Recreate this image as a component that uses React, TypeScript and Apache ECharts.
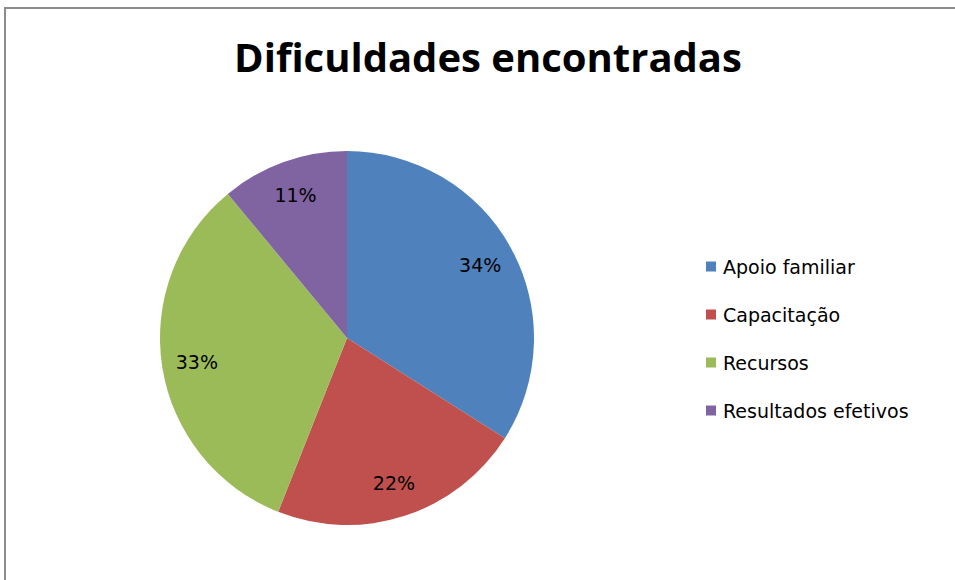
import React, { useEffect, useRef } from "react";
import * as echarts from "echarts";

const titleText = "Dificuldades encontradas";
const categories = ["Apoio familiar", "Capacitação", "Recursos", "Resultados efetivos"];
const values = [34, 22, 33, 11];
const colors = ["#4F81BD", "#C0504D", "#9BBB59", "#8064A2"];

export default function App() {
  const ref = useRef<HTMLDivElement>(null);
  useEffect(() => {
    if (!ref.current) return;
    const chart = echarts.init(ref.current, undefined, { renderer: "svg" });
    const data = categories.map((name, i) => ({
      name,
      value: values[i],
      itemStyle: { color: colors[i] },
    }));
    chart.setOption({
      animation: false,
      backgroundColor: "#ffffff",
      title: {
        text: titleText,
        left: 483,
        textAlign: "center",
        top: 31,
        textStyle: {
          fontFamily: "Open Sans",
          fontWeight: "bold",
          fontSize: 40,
          color: "#000000",
        },
      },
      legend: {
        orient: "vertical",
        left: 701,
        top: 252,
        itemWidth: 10,
        itemHeight: 10,
        itemGap: 29,
        icon: "rect",
        data: categories.map((name, i) => ({ name, itemStyle: { color: colors[i] } })),
        textStyle: {
          fontFamily: "DejaVu Sans",
          fontSize: 19,
          color: "#000000",
          padding: [0, 0, 0, 2],
        },
      },
      graphic: [
        {
          type: "rect",
          shape: { x: 5, y: 8, width: 1200, height: 1200 },
          style: { fill: "none", stroke: "#8c8c8c", lineWidth: 2 },
          silent: true,
        },
      ],
      series: [
        {
          type: "pie",
          center: [347, 338],
          radius: [0, 187],
          startAngle: 90,
          clockwise: true,
          label: { show: false },
          labelLine: { show: false },
          emphasis: { disabled: true },
          data,
        },
        {
          type: "pie",
          center: [347, 338],
          radius: [111, 187],
          startAngle: 90,
          clockwise: true,
          silent: true,
          itemStyle: { color: "rgba(0,0,0,0)" },
          label: {
            show: true,
            position: "inside",
            formatter: "{c}%",
            fontFamily: "DejaVu Sans",
            fontSize: 19,
            color: "#000000",
          },
          labelLine: { show: false },
          emphasis: { disabled: true },
          data: categories.map((name, i) => ({ name, value: values[i] })),
        },
      ],
    });
    return () => chart.dispose();
  }, []);
  return (
    <div
      ref={ref}
      style={{ position: "absolute", left: 0, top: 0, width: 955, height: 580 }}
    />
  );
}
